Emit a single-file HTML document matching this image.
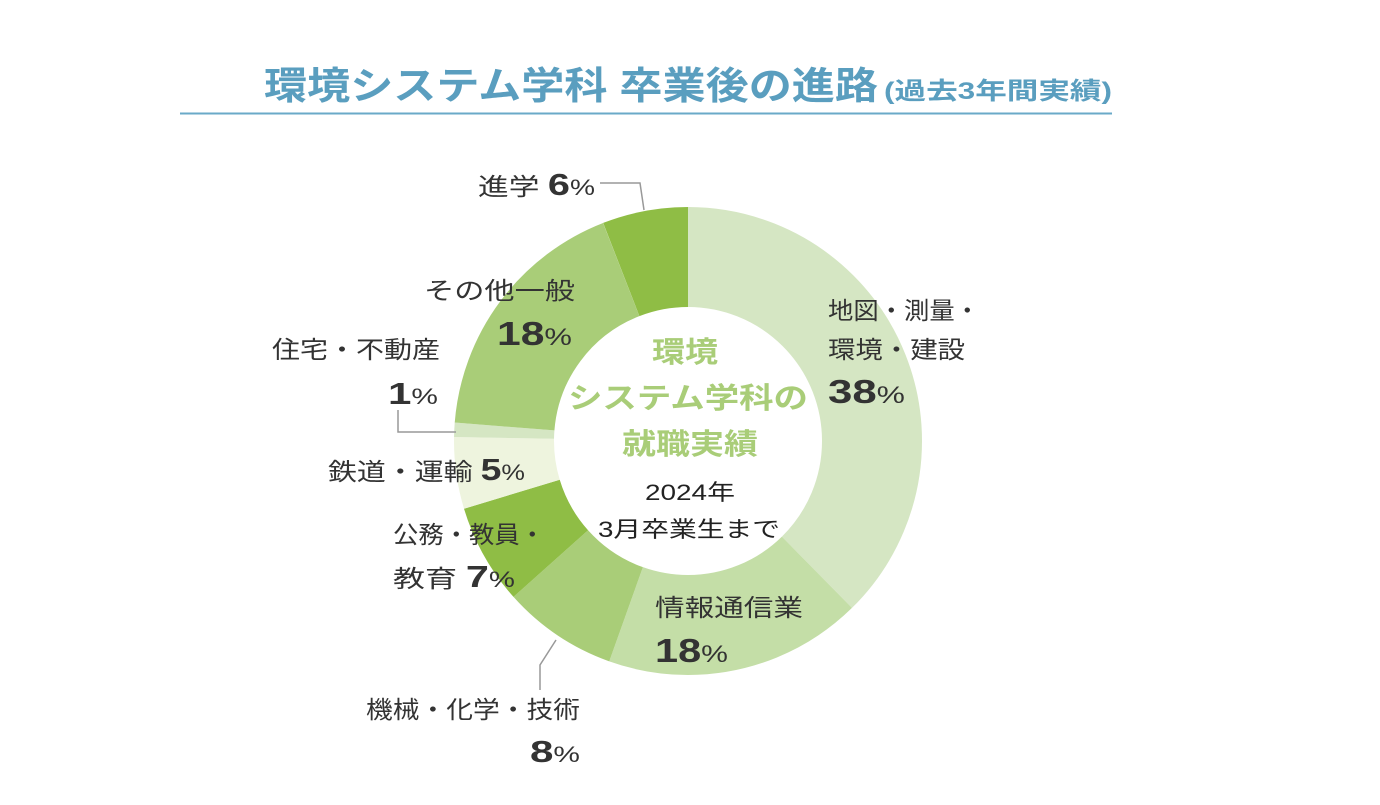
<!DOCTYPE html>
<html><head><meta charset="utf-8"><style>
body{margin:0;background:#fff;width:1380px;height:800px;overflow:hidden;font-family:"Liberation Sans","Noto Sans CJK JP",sans-serif}
</style></head><body>
<svg width="1380" height="800" viewBox="0 0 1380 800" xmlns="http://www.w3.org/2000/svg" font-family="Liberation Sans, Noto Sans CJK JP, sans-serif">
<text x="264" y="99" font-size="38" font-weight="bold" fill="#5a9ebf" textLength="614" lengthAdjust="spacingAndGlyphs">環境システム学科 卒業後の進路</text>
<text x="884" y="99" font-size="24" font-weight="bold" fill="#5a9ebf" textLength="228" lengthAdjust="spacingAndGlyphs">(過去3年間実績)</text>
<line x1="180" y1="113.5" x2="1112" y2="113.5" stroke="#6aaac8" stroke-width="2"/>
<g transform="rotate(-90 688 441)" fill="none" stroke-width="100">
<circle cx="688" cy="441" r="184" stroke="#d5e6c3" stroke-dasharray="435 1200" stroke-dashoffset="0"/>
<circle cx="688" cy="441" r="184" stroke="#c4dea7" stroke-dasharray="206 1200" stroke-dashoffset="-435"/>
<circle cx="688" cy="441" r="184" stroke="#a9cd78" stroke-dasharray="91.6 1200" stroke-dashoffset="-641"/>
<circle cx="688" cy="441" r="184" stroke="#8fbd45" stroke-dasharray="80.1 1200" stroke-dashoffset="-732.6"/>
<circle cx="688" cy="441" r="184" stroke="#eef4de" stroke-dasharray="57.2 1200" stroke-dashoffset="-812.7"/>
<circle cx="688" cy="441" r="184" stroke="#d5e6c3" stroke-dasharray="11.4 1200" stroke-dashoffset="-869.9"/>
<circle cx="688" cy="441" r="184" stroke="#a9cd78" stroke-dasharray="206 1200" stroke-dashoffset="-881.3"/>
<circle cx="688" cy="441" r="184" stroke="#8fbd45" stroke-dasharray="68.8 1200" stroke-dashoffset="-1087.4"/>
</g>
<g fill="none" stroke="#999" stroke-width="1.5">
<polyline points="600,183 640,183 644,210"/>
<polyline points="398,410 398,432 456,432"/>
<polyline points="540,690 540,665 556,640"/>
</g>
<g fill="#a9cd78" font-size="29" font-weight="bold">
<text x="652" y="362" textLength="66" lengthAdjust="spacingAndGlyphs">環境</text>
<text x="568" y="408" textLength="240" lengthAdjust="spacingAndGlyphs">システム学科の</text>
<text x="622" y="454" textLength="136" lengthAdjust="spacingAndGlyphs">就職実績</text>
</g>
<g fill="#222" font-size="22">
<text x="645" y="500" textLength="90" lengthAdjust="spacingAndGlyphs">2024年</text>
<text x="598" y="537" textLength="182" lengthAdjust="spacingAndGlyphs">3月卒業生まで</text>
</g>
<g fill="#333" font-size="24">
<text x="478" y="195" textLength="117" lengthAdjust="spacingAndGlyphs">進学 <tspan font-size="31" font-weight="bold">6</tspan><tspan font-size="22">%</tspan></text>
<text x="424" y="299" textLength="151" lengthAdjust="spacingAndGlyphs">その他一般</text>
<text x="497" y="345" font-size="33" font-weight="bold" textLength="75" lengthAdjust="spacingAndGlyphs">18<tspan font-size="24" font-weight="normal">%</tspan></text>
<text x="272" y="358" textLength="168" lengthAdjust="spacingAndGlyphs">住宅・不動産</text>
<text x="388" y="404" font-size="31" font-weight="bold" textLength="50" lengthAdjust="spacingAndGlyphs">1<tspan font-size="22" font-weight="normal">%</tspan></text>
<text x="328" y="480" textLength="197" lengthAdjust="spacingAndGlyphs">鉄道・運輸 <tspan font-size="31" font-weight="bold">5</tspan><tspan font-size="22">%</tspan></text>
<text x="393" y="543" textLength="152" lengthAdjust="spacingAndGlyphs">公務・教員・</text>
<text x="393" y="587" textLength="122" lengthAdjust="spacingAndGlyphs">教育 <tspan font-size="31" font-weight="bold">7</tspan><tspan font-size="22">%</tspan></text>
<text x="828" y="319" textLength="152" lengthAdjust="spacingAndGlyphs">地図・測量・</text>
<text x="828" y="358" textLength="137" lengthAdjust="spacingAndGlyphs">環境・建設</text>
<text x="828" y="403" font-size="33" font-weight="bold" textLength="77" lengthAdjust="spacingAndGlyphs">38<tspan font-size="24" font-weight="normal">%</tspan></text>
<text x="655" y="616" textLength="148" lengthAdjust="spacingAndGlyphs">情報通信業</text>
<text x="655" y="662" font-size="33" font-weight="bold" textLength="73" lengthAdjust="spacingAndGlyphs">18<tspan font-size="24" font-weight="normal">%</tspan></text>
<text x="366" y="718" textLength="214" lengthAdjust="spacingAndGlyphs">機械・化学・技術</text>
<text x="530" y="762" font-size="31" font-weight="bold" textLength="50" lengthAdjust="spacingAndGlyphs">8<tspan font-size="22" font-weight="normal">%</tspan></text>
</g>
</svg>
</body></html>
